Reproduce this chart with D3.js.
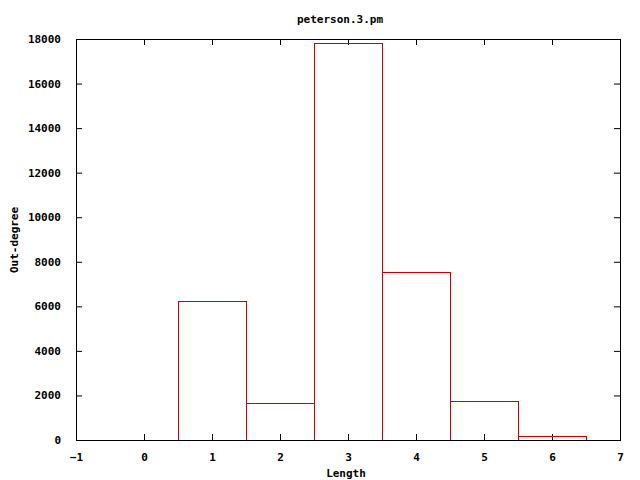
<!DOCTYPE html>
<html><head><meta charset="utf-8">
<script src="https://cdn.jsdelivr.net/npm/d3@7"></script>
<style>body{margin:0;background:#fff}svg{display:block}text{font-family:"DejaVu Sans Mono",monospace;font-weight:bold;font-size:11px;fill:#000}</style>
</head><body>
<svg id="c" width="640" height="480"></svg>
<script>
const lengths = [1, 2, 3, 4, 5, 6];
const outDegree = [6250, 1650, 17800, 7530, 1740, 170];
const xTicks = [-1, 0, 1, 2, 3, 4, 5, 6, 7];
const yTicks = [0, 2000, 4000, 6000, 8000, 10000, 12000, 14000, 16000, 18000];

const svg = d3.select("#c");
const L = 76, R = 620, T = 39, B = 440;
const x = d3.scaleLinear().domain([-1, 7]).range([L, R]);
const y = d3.scaleLinear().domain([0, 18000]).range([B, T]);
const tk = 6;

// axes (inward ticks, mirrored)
const gB = svg.append("g").attr("transform", `translate(0,${B})`)
  .call(d3.axisBottom(x).tickValues(xTicks).tickSize(-tk).tickPadding(tk + 7).tickFormat(d3.format("d")));
const gT = svg.append("g").attr("transform", `translate(0,${T})`)
  .call(d3.axisTop(x).tickValues(xTicks).tickSize(-tk).tickFormat(""));
const gL = svg.append("g").attr("transform", `translate(${L},0)`)
  .call(d3.axisLeft(y).tickValues(yTicks).tickSize(-tk).tickPadding(tk + 9).tickFormat(d3.format("d")));
const gR = svg.append("g").attr("transform", `translate(${R},0)`)
  .call(d3.axisRight(y).tickValues(yTicks).tickSize(-tk).tickFormat(""));
[gB, gT, gL, gR].forEach(g => {
  g.select(".domain").remove();
  g.selectAll("line").attr("stroke", "#000");
  g.selectAll("text").attr("font-family", null).attr("font-size", null).attr("fill", "#000");
});

// bars (drawn as open red boxes)
svg.append("g").selectAll("path").data(lengths).join("path")
  .attr("d", (d, i) => {
    const x0 = Math.round(x(d - 0.5)) + 0.5, x1 = Math.round(x(d + 0.5)) + 0.5;
    const yt = Math.round(y(outDegree[i])) + 0.5, yb = B + 0.5;
    return `M${x0},${yb}V${yt}H${x1}V${yb}`;
  })
  .attr("fill", "none").attr("stroke", "#cc0000").attr("stroke-width", 1)
  .attr("shape-rendering", "crispEdges");

// frame
svg.append("rect").attr("x", L + 0.5).attr("y", T + 0.5).attr("width", R - L).attr("height", B - T)
  .attr("fill", "none").attr("stroke", "#000").attr("shape-rendering", "crispEdges");

svg.append("text").attr("x", 340).attr("y", 23).attr("text-anchor", "middle").text("peterson.3.pm");
svg.append("text").attr("x", 346).attr("y", 477).attr("text-anchor", "middle").text("Length");
svg.append("text").attr("transform", "translate(18,240) rotate(-90)").attr("text-anchor", "middle").text("Out-degree");
</script>
</body></html>
